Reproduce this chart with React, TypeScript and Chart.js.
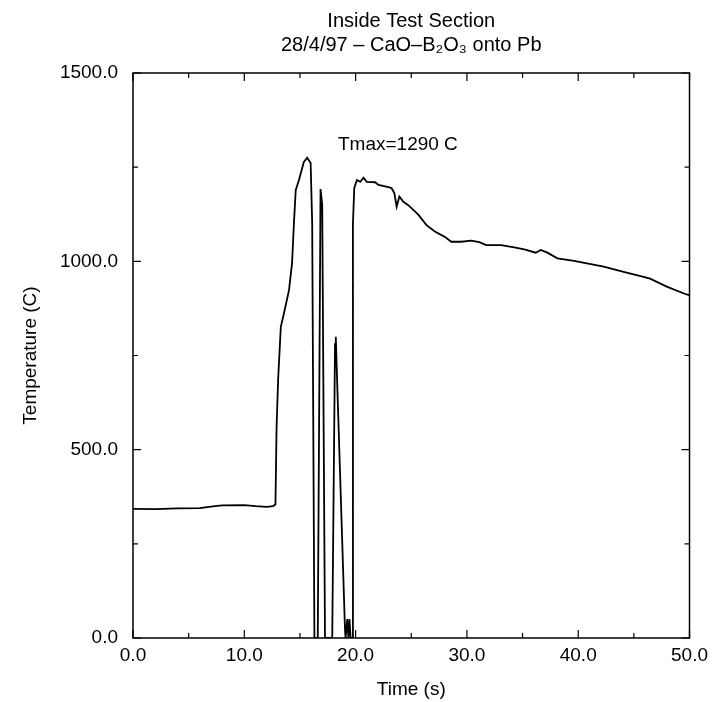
import React, { useEffect, useRef } from "react";
import { Chart, registerables } from "chart.js";

Chart.register(...registerables);

const titleLines = ["Inside Test Section", "28/4/97 \u2013 CaO\u2013B\u2082O\u2083 onto Pb"];
const xAxisTitle = "Time (s)";
const yAxisTitle = "Temperature (C)";
const annotationText = "Tmax=1290 C";
const annotationAt = { x: 23.8, y: 1309 };

const timeS = [
  0, 2, 4, 6, 7, 8, 10, 11, 12, 12.6, 12.8, 12.9, 13.04, 13.28, 13.57, 14.02, 14.29, 14.46, 14.62,
  14.91, 15.35, 15.65, 15.96, 16.1, 16.3, 16.45, 16.6, 16.85, 17.0, 17.25, 17.9, 18.15, 18.22, 18.3,
  19.05, 19.1, 19.25, 19.35, 19.45, 19.55, 19.68, 19.76, 19.88, 20.12, 20.42, 20.71, 21.0, 21.76,
  22.05, 22.95, 23.24, 23.48, 23.69, 23.93, 24.29, 24.73, 25.63, 26.37, 27.12, 28.01, 28.6, 29.49,
  30.38, 31.13, 31.72, 33.06, 34.26, 35.15, 36.19, 36.63, 37.23, 38.13, 39.62, 42.29, 44.08, 45.87,
  46.46, 47.95, 49.73, 50,
];
const temperatureC = [
  343, 342, 344, 345, 349, 352, 353, 350, 348, 350, 355, 560, 687, 826, 863, 924, 995, 1102, 1189,
  1216, 1264, 1275, 1261, 1100, 0, 0, 0, 1192, 1150, 0, 0, 780, 800, 720,
  20, 0, 50, 0, 50, 0, 0, 1100, 1195, 1216, 1211, 1222, 1211, 1210,
  1203, 1197, 1194, 1181, 1145, 1172, 1158, 1149, 1124, 1096, 1079, 1065, 1052, 1052,
  1055, 1051, 1043, 1043, 1037, 1032, 1023, 1030, 1023, 1008, 1001, 986, 972, 959,
  954, 933, 912, 910,
];

const xTickStep = 10;
const xMinorStep = 5;
const yTickStep = 500;
const yMinorStep = 250;

const FONT = "'Liberation Sans', Arial, Helvetica, sans-serif";

const framePlugin = {
  id: "frameTicks",
  afterDatasetsDraw(chart: any) {
    const { ctx, chartArea, scales } = chart;
    const { left, right, top, bottom } = chartArea;
    ctx.save();
    ctx.strokeStyle = "#000";
    ctx.lineWidth = 1.5;
    ctx.strokeRect(left, top, right - left, bottom - top);
    ctx.lineWidth = 1.2;
    const xs = scales.x;
    const ys = scales.y;
    ctx.beginPath();
    for (let v = xs.min; v <= xs.max + 1e-9; v += xMinorStep) {
      const px = xs.getPixelForValue(v);
      const len = Math.abs(v % xTickStep) < 1e-9 ? 8 : 5;
      ctx.moveTo(px, bottom);
      ctx.lineTo(px, bottom - len);
      ctx.moveTo(px, top);
      ctx.lineTo(px, top + len);
    }
    for (let v = ys.min; v <= ys.max + 1e-9; v += yMinorStep) {
      const py = ys.getPixelForValue(v);
      const len = Math.abs(v % yTickStep) < 1e-9 ? 8 : 5;
      ctx.moveTo(left, py);
      ctx.lineTo(left + len, py);
      ctx.moveTo(right, py);
      ctx.lineTo(right - len, py);
    }
    ctx.stroke();
    ctx.fillStyle = "#000";
    ctx.font = `19px ${FONT}`;
    ctx.textAlign = "center";
    ctx.textBaseline = "middle";
    ctx.fillText(annotationText, xs.getPixelForValue(annotationAt.x), ys.getPixelForValue(annotationAt.y));
    ctx.restore();
  },
};

export default function App() {
  const ref = useRef<HTMLCanvasElement | null>(null);
  useEffect(() => {
    document.body.style.margin = "0";
    const canvas = ref.current;
    if (!canvas) return;
    const points = timeS.map((t, i) => ({ x: t, y: temperatureC[i] }));
    const chart = new Chart(canvas, {
      type: "scatter",
      data: {
        datasets: [
          {
            data: points,
            showLine: true,
            borderColor: "#000",
            backgroundColor: "#000",
            borderWidth: 1.8,
            pointRadius: 0,
            tension: 0,
          },
        ],
      },
      options: {
        animation: false,
        responsive: false,
        devicePixelRatio: 1,
        layout: { padding: { left: 0, right: 21, top: 0, bottom: 0 } },
        plugins: {
          legend: { display: false },
          tooltip: { enabled: false },
          title: {
            display: true,
            fullSize: false,
            text: titleLines,
            color: "#000",
            font: { family: FONT, size: 20, weight: "normal", lineHeight: 1.2 },
            padding: { top: 9, bottom: 16 },
            align: "center",
          },
        },
        scales: {
          x: {
            type: "linear",
            min: 0,
            max: 50,
            grid: { display: false, drawTicks: false },
            border: { display: false },
            ticks: {
              stepSize: xTickStep,
              color: "#000",
              padding: 6,
              maxRotation: 0,
              font: { family: FONT, size: 19 },
              callback: (v: any) => Number(v).toFixed(1),
            },
            title: {
              display: true,
              text: xAxisTitle,
              color: "#000",
              font: { family: FONT, size: 19 },
              padding: { top: 0, bottom: 1 },
            },
            afterFit: (s: any) => {
              s.height = 64;
            },
          },
          y: {
            type: "linear",
            min: 0,
            max: 1500,
            grid: { display: false, drawTicks: false },
            border: { display: false },
            ticks: {
              stepSize: yTickStep,
              color: "#000",
              padding: 15,
              font: { family: FONT, size: 19 },
              callback: (v: any) => Number(v).toFixed(1),
            },
            title: {
              display: true,
              text: yAxisTitle,
              color: "#000",
              font: { family: FONT, size: 19 },
              padding: { top: 19, bottom: 0 },
            },
            afterFit: (s: any) => {
              s.width = 133;
            },
          },
        },
      },
      plugins: [framePlugin],
    });
    return () => chart.destroy();
  }, []);
  return (
    <div style={{ width: 714, height: 702 }}>
      <canvas ref={ref} width={714} height={702} style={{ width: 714, height: 702, display: "block" }} />
    </div>
  );
}
